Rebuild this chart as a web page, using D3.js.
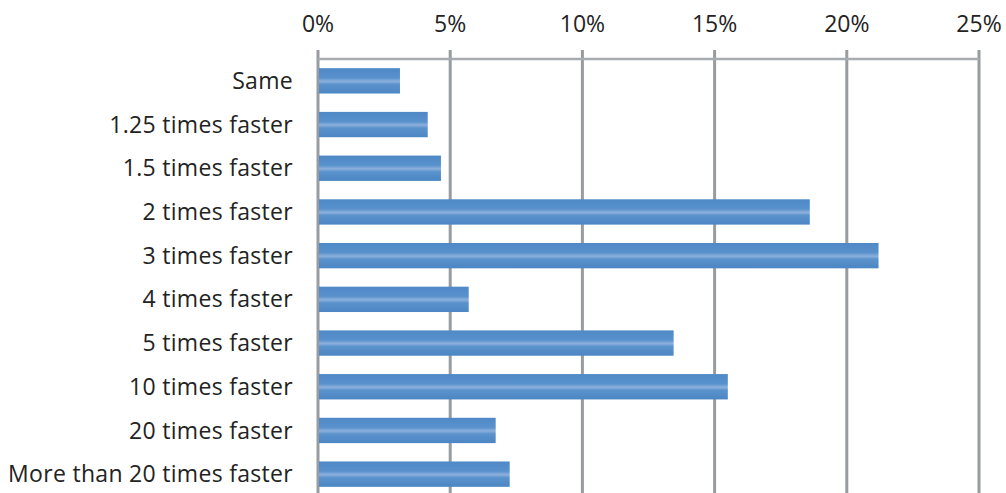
<!DOCTYPE html>
<head>
  <meta charset="utf-8">
  <script src="https://d3js.org/d3.v7.min.js"></script>
  <style>
    body { margin: 0; background: #fff; }
    text { font-family: "Open Sans", sans-serif; fill: #232323; }
  </style>
</head>
<body>
  <div id="chart"></div>
  <script>
    var categories = ["Same", "1.25 times faster", "1.5 times faster", "2 times faster",
      "3 times faster", "4 times faster", "5 times faster", "10 times faster",
      "20 times faster", "More than 20 times faster"];
    var shares = [0.031, 0.0415, 0.0465, 0.186, 0.212, 0.057, 0.1345, 0.155, 0.0672, 0.0725];
    var tickValues = [0, 0.05, 0.10, 0.15, 0.20, 0.25];

    var width = 1006, height = 493;

    var svg = d3.select("#chart").append("svg")
      .attr("width", width)
      .attr("height", height);

    var x = d3.scaleLinear().domain([0, 0.25]).range([318, 979]);
    var y = d3.scaleBand().domain(categories).range([59, 496])
      .paddingInner(0.42).paddingOuter(0.21);

    // bar gradient
    var grad = svg.append("defs").append("linearGradient")
      .attr("id", "barGrad")
      .attr("x1", 0).attr("y1", 0).attr("x2", 0).attr("y2", 1);
    grad.append("stop").attr("offset", "0%").attr("stop-color", "#4f89c6");
    grad.append("stop").attr("offset", "38%").attr("stop-color", "#5891cc");
    grad.append("stop").attr("offset", "52%").attr("stop-color", "#8cb0dc");
    grad.append("stop").attr("offset", "64%").attr("stop-color", "#5a92cc");
    grad.append("stop").attr("offset", "100%").attr("stop-color", "#4c86c3");

    // gridlines
    svg.append("g").selectAll("line")
      .data(tickValues)
      .enter().append("line")
      .attr("x1", function(d) { return x(d); })
      .attr("x2", function(d) { return x(d); })
      .attr("y1", 50)
      .attr("y2", height)
      .attr("stroke", "#989ca1")
      .attr("stroke-width", 3);

    // top axis line
    svg.append("line")
      .attr("x1", x(0)).attr("x2", x(0.25))
      .attr("y1", 59).attr("y2", 59)
      .attr("stroke", "#a8acb0")
      .attr("stroke-width", 2.5);

    // tick labels
    svg.append("g").selectAll("text")
      .data(tickValues)
      .enter().append("text")
      .attr("x", function(d) { return x(d); })
      .attr("y", 32)
      .attr("text-anchor", "middle")
      .attr("font-size", 23)
      .text(function(d) { return Math.round(d * 100) + "%"; });

    // bars
    svg.append("g").selectAll("rect")
      .data(shares)
      .enter().append("rect")
      .attr("x", x(0) + 1)
      .attr("y", function(d, i) { return y(categories[i]); })
      .attr("width", function(d) { return x(d) - x(0) - 1; })
      .attr("height", y.bandwidth())
      .attr("fill", "url(#barGrad)");

    // category labels
    svg.append("g").selectAll("text")
      .data(categories)
      .enter().append("text")
      .attr("x", 293)
      .attr("y", function(d) { return y(d) + y.bandwidth() / 2; })
      .attr("dy", "0.35em")
      .attr("text-anchor", "end")
      .attr("font-size", 23)
      .attr("letter-spacing", 0.3)
      .text(function(d) { return d; });
  </script>
</body>
